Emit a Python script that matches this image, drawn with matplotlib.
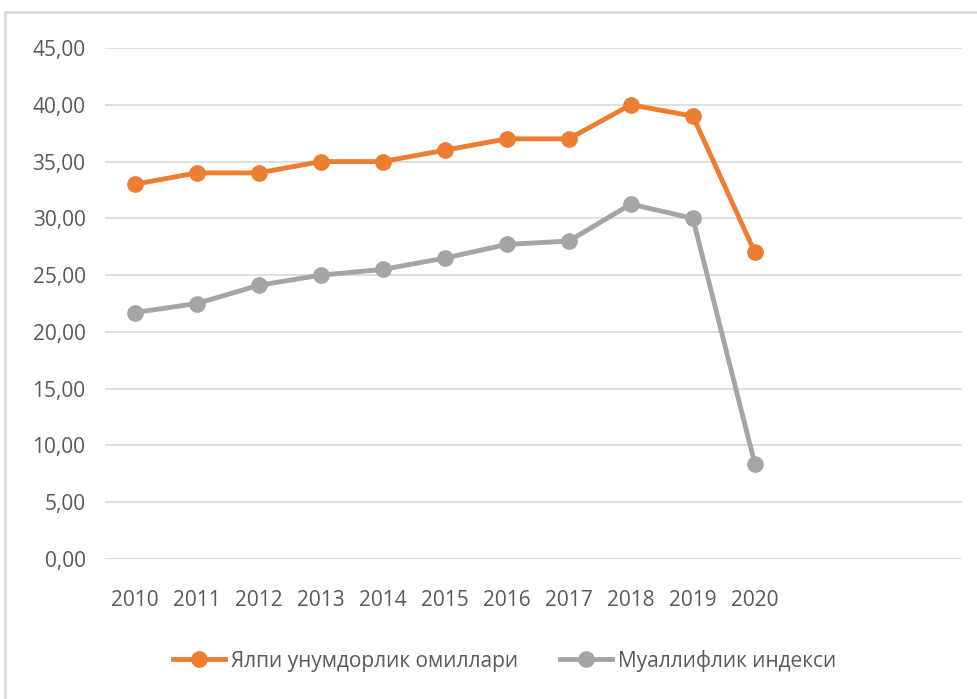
import matplotlib.pyplot as plt
from matplotlib.patches import Rectangle
from matplotlib.ticker import FuncFormatter
from matplotlib import font_manager

years = ["2010", "2011", "2012", "2013", "2014", "2015", "2016", "2017", "2018", "2019", "2020"]
gross_factors = [33.0, 34.0, 34.0, 35.0, 35.0, 36.0, 37.0, 37.0, 40.0, 39.0, 27.0]
author_index = [21.7, 22.5, 24.1, 25.0, 25.5, 26.5, 27.7, 28.0, 31.25, 30.0, 8.35]
series_names = ["Ялпи унумдорлик омиллари", "Муаллифлик индекси"]

ORANGE = "#ed7d31"
GRAY = "#a5a5a5"
TEXT = "#595959"

names = {f.name for f in font_manager.fontManager.ttflist}
font = "Liberation Sans Narrow" if "Liberation Sans Narrow" in names else "Open Sans"
plt.rcParams["font.family"] = [font, "DejaVu Sans"]

fig = plt.figure(figsize=(9.78, 6.99), dpi=100)
ax = fig.add_axes([105 / 978, 1 - 559 / 699, 857 / 978, 511 / 699])

x = list(range(len(years)))
ax.plot(x, gross_factors, color=ORANGE, lw=3.5, marker="o", ms=11, label=series_names[0])
ax.plot(x, author_index, color=GRAY, lw=3.5, marker="o", ms=11, label=series_names[1])

ax.set_ylim(0, 45)
ax.set_yticks(range(0, 46, 5))
ax.yaxis.set_major_formatter(FuncFormatter(lambda v, p: f"{v:.2f}".replace(".", ",")))
ax.set_xlim(-0.48, 13.34)
ax.set_xticks(x)
ax.set_xticklabels(years)
ax.grid(axis="y", color="#d9d9d9", lw=1.2)
ax.set_axisbelow(True)
for s in ax.spines.values():
    s.set_visible(False)
ax.tick_params(length=0, colors=TEXT, labelsize=15)
ax.tick_params(axis="y", pad=14)
ax.tick_params(axis="x", pad=22)

fig.legend(loc="center", bbox_to_anchor=(0.516, 0.055), ncol=2, frameon=False,
           fontsize=15, labelcolor=TEXT, handlelength=2.5, handletextpad=0.3,
           columnspacing=2.0)

# outer chart frame
fig.patches.append(Rectangle((5 / 978, -0.1), 1.2, 1 - 12 / 699 + 0.1,
                             transform=fig.transFigure, fill=False,
                             edgecolor="#d9d9d9", lw=2))

fig.savefig("out.png", dpi=100)
